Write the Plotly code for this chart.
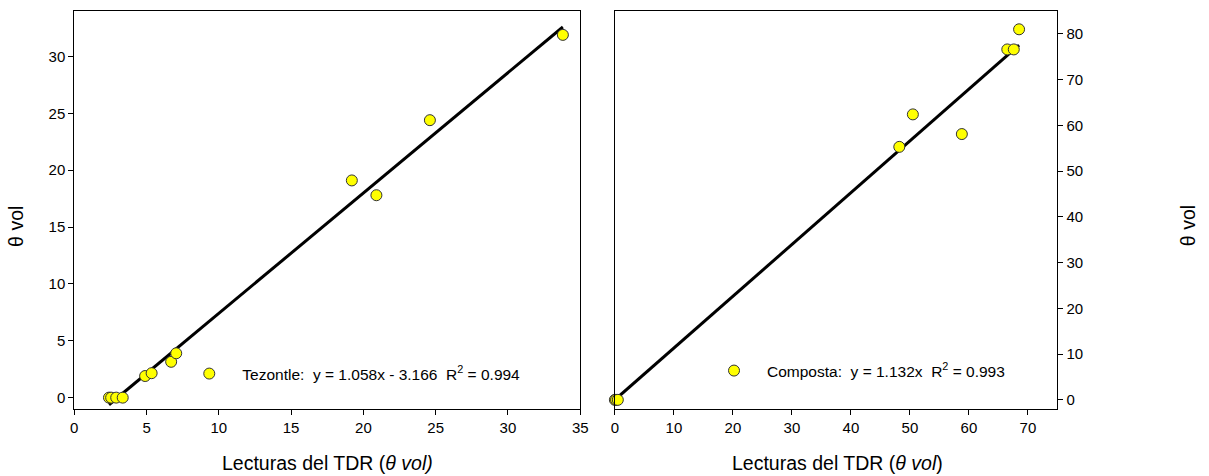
import plotly.graph_objects as go

# Tezontle: TDR readings vs. volumetric water content
tez_x = [2.4, 2.55, 2.9, 3.35, 4.9, 5.35, 6.7, 7.05, 19.2, 20.9, 24.6, 33.8]
tez_y = [0.0, 0.0, 0.0, 0.0, 1.9, 2.15, 3.15, 3.9, 19.1, 17.8, 24.4, 31.9]
tez_slope, tez_intercept, tez_r2 = 1.058, -3.166, 0.994

# Composta: TDR readings vs. volumetric water content
comp_x = [0.0, 0.2, 0.5, 48.2, 50.5, 58.8, 66.5, 67.6, 68.5]
comp_y = [0.0, 0.0, 0.0, 55.3, 62.4, 58.1, 76.6, 76.6, 81.0]
comp_slope, comp_intercept, comp_r2 = 1.132, 0.0, 0.993

left_xticks = [0, 5, 10, 15, 20, 25, 30, 35]
left_yticks = [0, 5, 10, 15, 20, 25, 30]
right_xticks = [0, 10, 20, 30, 40, 50, 60, 70]
right_yticks = [0, 10, 20, 30, 40, 50, 60, 70, 80]

FONT = "Liberation Sans, Arial, sans-serif"
W, H = 1209, 476
NB = "\u00a0"

marker = dict(color="#FFFF00", size=11, line=dict(color="#333333", width=1))

fig = go.Figure()

# fitted lines
tx = [min(tez_x), max(tez_x)]
fig.add_trace(go.Scatter(x=tx, y=[tez_slope * v + tez_intercept for v in tx],
                         mode="lines", line=dict(color="black", width=3),
                         showlegend=False, xaxis="x", yaxis="y"))
cx = [min(comp_x), max(comp_x)]
fig.add_trace(go.Scatter(x=cx, y=[comp_slope * v + comp_intercept for v in cx],
                         mode="lines", line=dict(color="black", width=3),
                         showlegend=False, xaxis="x2", yaxis="y2"))

fig.add_trace(go.Scatter(
    x=tez_x, y=tez_y, mode="markers", marker=marker, xaxis="x", yaxis="y",
    cliponaxis=False,
    name=f"Tezontle:{NB}{NB}y = {tez_slope}x - {abs(tez_intercept)}{NB}{NB}R<sup>2</sup> = {tez_r2}",
    legend="legend"))
fig.add_trace(go.Scatter(
    x=comp_x, y=comp_y, mode="markers", marker=marker, xaxis="x2", yaxis="y2",
    cliponaxis=False,
    name=f"Composta:{NB}{NB}y = {comp_slope}x{NB}{NB}R<sup>2</sup> = {comp_r2}",
    legend="legend2"))

ydom = [(H - 409) / H, (H - 11) / H]
axis_common = dict(showline=True, linecolor="black", linewidth=1, mirror=True,
                   ticks="outside", ticklen=5, tickcolor="black", showgrid=False,
                   zeroline=False, tickfont=dict(family=FONT, size=15, color="black"))

legend_common = dict(xanchor="left", yanchor="middle", itemwidth=56,
                     bgcolor="rgba(0,0,0,0)", font=dict(family=FONT, size=15.5))

fig.update_layout(
    width=W, height=H, margin=dict(l=0, r=0, t=0, b=0),
    paper_bgcolor="white", plot_bgcolor="white",
    font=dict(family=FONT, size=15, color="black"),
    xaxis=dict(domain=[71 / W, 582 / W], range=[0, 35], tickvals=left_xticks,
               anchor="y", **axis_common),
    yaxis=dict(domain=ydom, range=[-1, 34], tickvals=left_yticks,
               anchor="x", side="left", **axis_common),
    xaxis2=dict(domain=[617 / W, 1064 / W], range=[0, 75], tickvals=right_xticks,
                anchor="y2", **axis_common),
    yaxis2=dict(domain=ydom, range=[-2, 85], tickvals=right_yticks,
                anchor="x2", side="right", **axis_common),
    legend=dict(x=174 / W, y=(H - 374) / H, **legend_common),
    legend2=dict(x=704 / W, y=(H - 371) / H, **legend_common),
)

# axis titles
title_font = dict(family=FONT, size=19.5, color="black")
for text, x, y, angle in [
    ("Lecturas del TDR (<i>θ vol)</i>", 327, 463, 0),
    ("Lecturas del TDR (<i>θ vol</i>)", 842, 463, 0),
    ("θ vol", 12, 226, -90),
    ("θ vol", 1196, 226, -90),
]:
    fig.add_annotation(text=text, x=x / W, y=(H - y) / H, textangle=angle,
                       xref="paper", yref="paper", xanchor="center", yanchor="middle",
                       showarrow=False, font=title_font)

fig.write_html("out.html")
